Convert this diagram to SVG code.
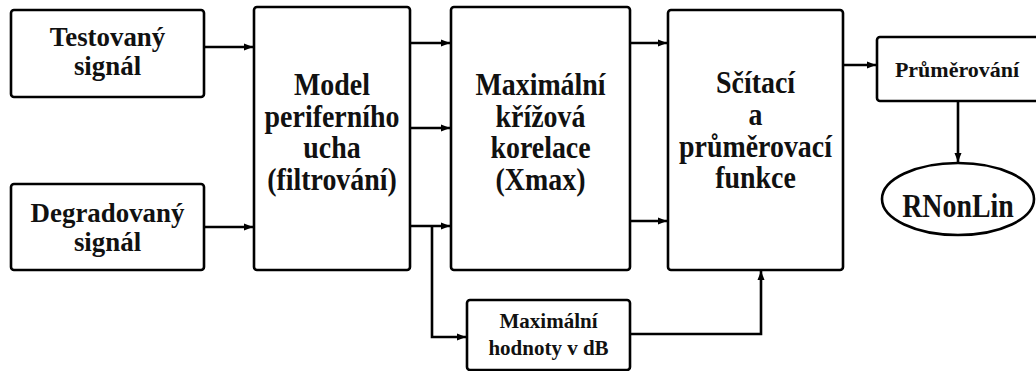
<svg xmlns="http://www.w3.org/2000/svg" width="1036" height="371" viewBox="0 0 1036 371">
<style>
.box{fill:#fff;stroke:#000;stroke-width:2.6}
.ln{fill:none;stroke:#000;stroke-width:2.6}
.t{font-family:"Liberation Serif","DejaVu Serif",serif;font-weight:700;font-size:31px;text-anchor:middle;fill:#111}
.s{font-family:"Liberation Serif","DejaVu Serif",serif;font-weight:700;font-size:21px;text-anchor:middle;fill:#111}
</style>
<defs>
<marker id="ah" markerUnits="userSpaceOnUse" markerWidth="10" markerHeight="8" refX="9" refY="4" orient="auto">
<path d="M0,0.5 L9,4 L0,7.5 z" fill="#000"/>
</marker>
</defs>
<rect width="1036" height="371" fill="#fff"/>
<g id="connectors">
<path class="ln" d="M204,47 H253" marker-end="url(#ah)"/>
<path class="ln" d="M204,227 H253" marker-end="url(#ah)"/>
<path class="ln" d="M410,43 H450" marker-end="url(#ah)"/>
<path class="ln" d="M410,128 H450" marker-end="url(#ah)"/>
<path class="ln" d="M410,226 H450" marker-end="url(#ah)"/>
<path class="ln" d="M432,226 V337 H466" marker-end="url(#ah)"/>
<path class="ln" d="M630,43 H667" marker-end="url(#ah)"/>
<path class="ln" d="M630,221 H667" marker-end="url(#ah)"/>
<path class="ln" d="M630,334 H761 V271" marker-end="url(#ah)"/>
<path class="ln" d="M843,65 H876" marker-end="url(#ah)"/>
<path class="ln" d="M958,101 V162" marker-end="url(#ah)"/>
</g>
<g id="testovany">
<rect class="box" x="11" y="10" width="193" height="87" rx="3"/>
<text class="t" transform="translate(107.5,0) scale(0.96,1)" style="font-size:28px"><tspan x="0" y="46">Testovaný</tspan><tspan x="0" y="75">signál</tspan></text>
</g>
<g id="degradovany">
<rect class="box" x="11" y="184" width="193" height="86" rx="3"/>
<text class="t" transform="translate(107.5,0) scale(0.96,1)" style="font-size:28px"><tspan x="0" y="222">Degradovaný</tspan><tspan x="0" y="251">signál</tspan></text>
</g>
<g id="model">
<rect class="box" x="254" y="7" width="156" height="263" rx="3"/>
<text class="t" transform="translate(332,0) scale(0.9,1)"><tspan x="0" y="95">Model</tspan><tspan x="0" y="127">periferního</tspan><tspan x="0" y="158">ucha</tspan><tspan x="0" y="190">(filtrování)</tspan></text>
</g>
<g id="korelace">
<rect class="box" x="451" y="7" width="179" height="263" rx="3"/>
<text class="t" transform="translate(540.5,0) scale(0.9,1)"><tspan x="0" y="95">Maximální</tspan><tspan x="0" y="127">křížová</tspan><tspan x="0" y="158">korelace</tspan><tspan x="0" y="190">(Xmax)</tspan></text>
</g>
<g id="scitaci">
<rect class="box" x="668" y="10" width="175" height="260" rx="3"/>
<text class="t" transform="translate(755.5,0) scale(0.9,1)"><tspan x="0" y="93">Sčítací</tspan><tspan x="0" y="125">a</tspan><tspan x="0" y="157">průměrovací</tspan><tspan x="0" y="188">funkce</tspan></text>
</g>
<g id="prumerovani">
<rect class="box" x="877" y="37" width="162" height="64" rx="3"/>
<text class="s" x="957" y="77" style="font-size:22px">Průměrování</text>
</g>
<g id="maxdb">
<rect class="box" x="467" y="300" width="163" height="70" rx="3"/>
<text class="s"><tspan x="548.5" y="328">Maximální</tspan><tspan x="548.5" y="355">hodnoty v dB</tspan></text>
</g>
<g id="rnonlin">
<ellipse class="box" cx="958" cy="199" rx="76" ry="36"/>
<text class="t" transform="translate(958,0) scale(0.82,1)" style="font-size:34px"><tspan x="0" y="217">RNonLin</tspan></text>
</g>
</svg>
